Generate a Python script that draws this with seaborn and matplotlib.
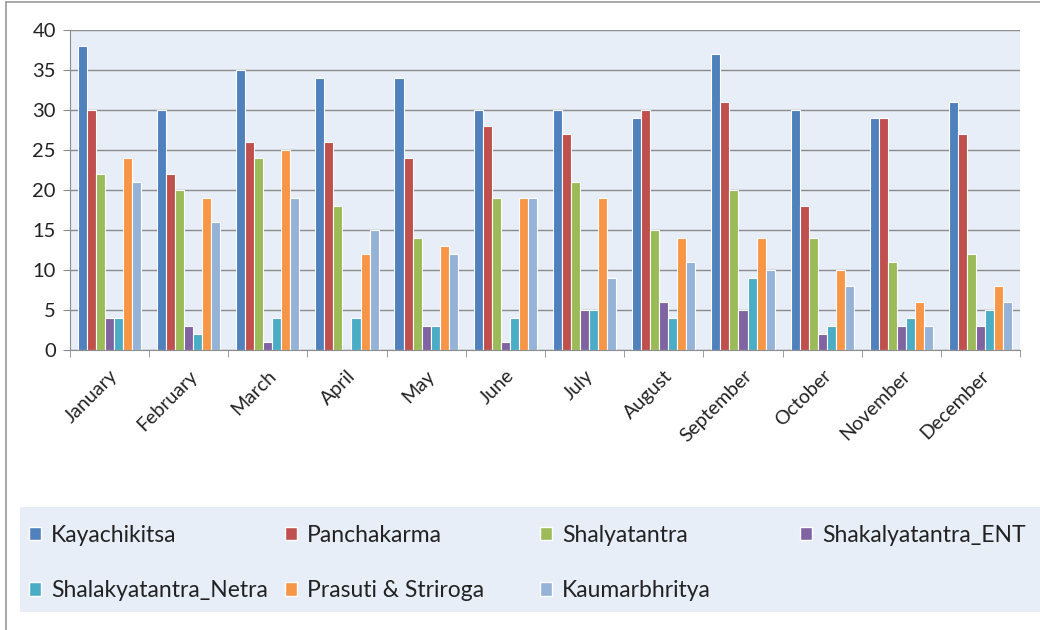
import numpy as np
import matplotlib.pyplot as plt
import matplotlib as mpl
from matplotlib.patches import Rectangle
from matplotlib.lines import Line2D
import pandas as pd
import seaborn as sns

months = ["January", "February", "March", "April", "May", "June", "July",
          "August", "September", "October", "November", "December"]
departments = ["Kayachikitsa", "Panchakarma", "Shalyatantra", "Shakalyatantra_ENT",
               "Shalakyatantra_Netra", "Prasuti & Striroga", "Kaumarbhritya"]

kayachikitsa = [38, 30, 35, 34, 34, 30, 30, 29, 37, 30, 29, 31]
panchakarma = [30, 22, 26, 26, 24, 28, 27, 30, 31, 18, 29, 27]
shalyatantra = [22, 20, 24, 18, 14, 19, 21, 15, 20, 14, 11, 12]
shakalya_ent = [4, 3, 1, 0, 3, 1, 5, 6, 5, 2, 3, 3]
shalakya_netra = [4, 2, 4, 4, 3, 4, 5, 4, 9, 3, 4, 5]
prasuti = [24, 19, 25, 12, 13, 19, 19, 14, 14, 10, 6, 8]
kaumarbhritya = [21, 16, 19, 15, 12, 19, 9, 11, 10, 8, 3, 6]

colors = ["#4F81BD", "#C0504D", "#9BBB59", "#8064A2", "#4BACC6", "#F79646", "#95B3D7"]

series = [kayachikitsa, panchakarma, shalyatantra, shakalya_ent,
          shalakya_netra, prasuti, kaumarbhritya]
df = pd.DataFrame({
    "Month": np.tile(months, len(departments)),
    "Department": np.repeat(departments, len(months)),
    "Count": np.concatenate(series),
})

sns.set_style("white")
plt.rcParams["font.family"] = ["Lato", "DejaVu Sans"]

fig = plt.figure(figsize=(10.4, 6.3), dpi=100)
ax = fig.add_axes([0.067, 0.444, 0.914, 0.508])

sns.barplot(data=df, x="Month", y="Count", hue="Department", order=months,
            hue_order=departments, palette=colors, saturation=1, width=0.8,
            edgecolor="white", linewidth=0.8, errorbar=None, ax=ax)

ax.set_facecolor("#E8EEF8")
ax.set_ylim(0, 40)
ax.set_xlim(-0.5, 11.5)
ax.set_yticks(range(0, 41, 5))
ax.yaxis.grid(True, color="#8C8C8C", linewidth=1)
ax.set_axisbelow(True)
ax.set_xlabel("")
ax.set_ylabel("")
for s in ["top", "right"]:
    ax.spines[s].set_visible(False)
for s in ["left", "bottom"]:
    ax.spines[s].set_color("#8C8C8C")
ax.tick_params(axis="y", labelsize=14.5, length=5, color="#8C8C8C", left=True, pad=5,
               labelcolor="#222222")
ax.set_xticks(range(len(months)))
ax.set_xticklabels(months, rotation=45, ha="right", rotation_mode="anchor", fontsize=14,
                   color="#222222")
ax.tick_params(axis="x", length=0, pad=12)
ax.set_xticks(np.arange(-0.5, 12, 1), minor=True)
ax.tick_params(axis="x", which="minor", length=5, color="#8C8C8C", bottom=True)

ax.get_legend().remove()

# legend background
fig.patches.append(Rectangle((0.019, 1 - 612 / 630), 0.981, 105 / 630,
                             transform=fig.transFigure, facecolor="#E8EEF8",
                             edgecolor="none", zorder=0))
handles = [Rectangle((0, 0), 1, 1, facecolor=c) for c in colors]
columns = [[0, 4], [1, 5], [2, 6], [3]]
col_x = [0.028, 0.274, 0.519, 0.769]
for cx, idx in zip(col_x, columns):
    leg = fig.legend([handles[i] for i in idx], [departments[i] for i in idx],
                     loc="upper left", bbox_to_anchor=(cx, 0.167), frameon=False,
                     fontsize=16.5, handlelength=0.52, handleheight=0.52,
                     handletextpad=0.45, labelspacing=1.5, borderaxespad=0,
                     borderpad=0)
    for t in leg.get_texts():
        t.set_color("#222222")

# outer frame (left and top edges visible in the source)
fig.add_artist(Line2D([0.006, 0.006], [0, 0.997], transform=fig.transFigure,
                      color="#9A9A9A", linewidth=1.2))
fig.add_artist(Line2D([0.006, 1], [0.997, 0.997], transform=fig.transFigure,
                      color="#9A9A9A", linewidth=1.2))

fig.savefig("out.png", dpi=100)
